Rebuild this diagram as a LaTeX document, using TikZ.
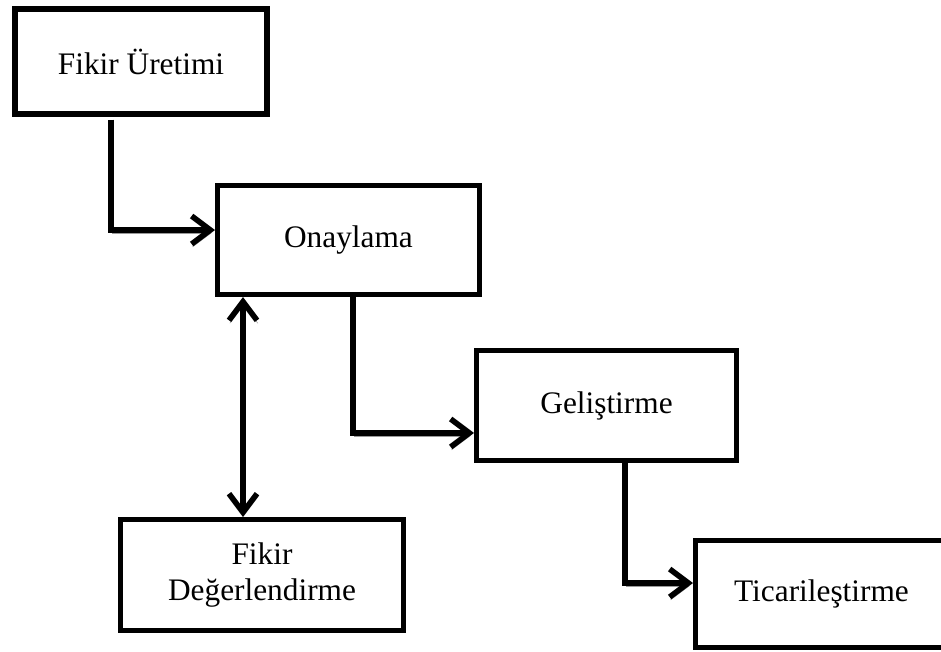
\documentclass[tikz,border=0pt]{standalone}
\usepackage{fontspec}
\setmainfont{Liberation Serif}
\usetikzlibrary{arrows.meta}
\begin{document}
\begin{tikzpicture}[x=0.75pt,y=-0.75pt,
  stage/.style={draw=black, line width=3.75pt, fill=white, inner sep=0pt,
    align=center, font=\fontsize{23.5}{27}\selectfont},
  tip/.tip={Straight Barb[length=14pt,width=21pt,line width=4.2pt]},
  conn/.style={line width=4.2pt, line join=miter, -tip,
    preaction={draw=black!40, transform canvas={shift={(0.6pt,-2.2pt)}}}},
  twoway/.style={conn, tip-tip}]
  \useasboundingbox (0,0) rectangle (941,651);
  \clip (0,0) rectangle (941,651);

  % process stages
  \node[stage, line width=4.5pt, minimum width=189pt, minimum height=78.75pt] (A) at (141,61.5) {Fikir Üretimi};
  \node[stage, minimum width=196.5pt, minimum height=81.75pt] (B) at (348.5,240) {Onaylama};
  \node[stage, minimum width=195pt, minimum height=82.5pt] (C) at (606.5,405.5) {Geliştirme};
  \node[stage, minimum width=189pt, minimum height=80.25pt] (D) at (821.5,594) {Ticarileştirme};
  \node[stage, minimum width=212.25pt, minimum height=83.25pt] (E) at (262,575) {Fikir\\Değerlendirme};

  % elbow connectors between stages
  \draw[conn] ([xshift=-22.5pt,yshift=-2pt]A.south) |- ([yshift=7.5pt]B.west);
  \draw[conn] ([xshift=3.4pt]B.south) |- ([yshift=-20.6pt]C.west);
  \draw[conn] ([xshift=13.9pt]C.south) |- ([yshift=8.25pt]D.west);

  % feedback between approval and evaluation
  \draw[twoway] ([xshift=-14.25pt]E.north) -- ([xshift=-14.25pt]E.north |- B.south);
\end{tikzpicture}
\end{document}
